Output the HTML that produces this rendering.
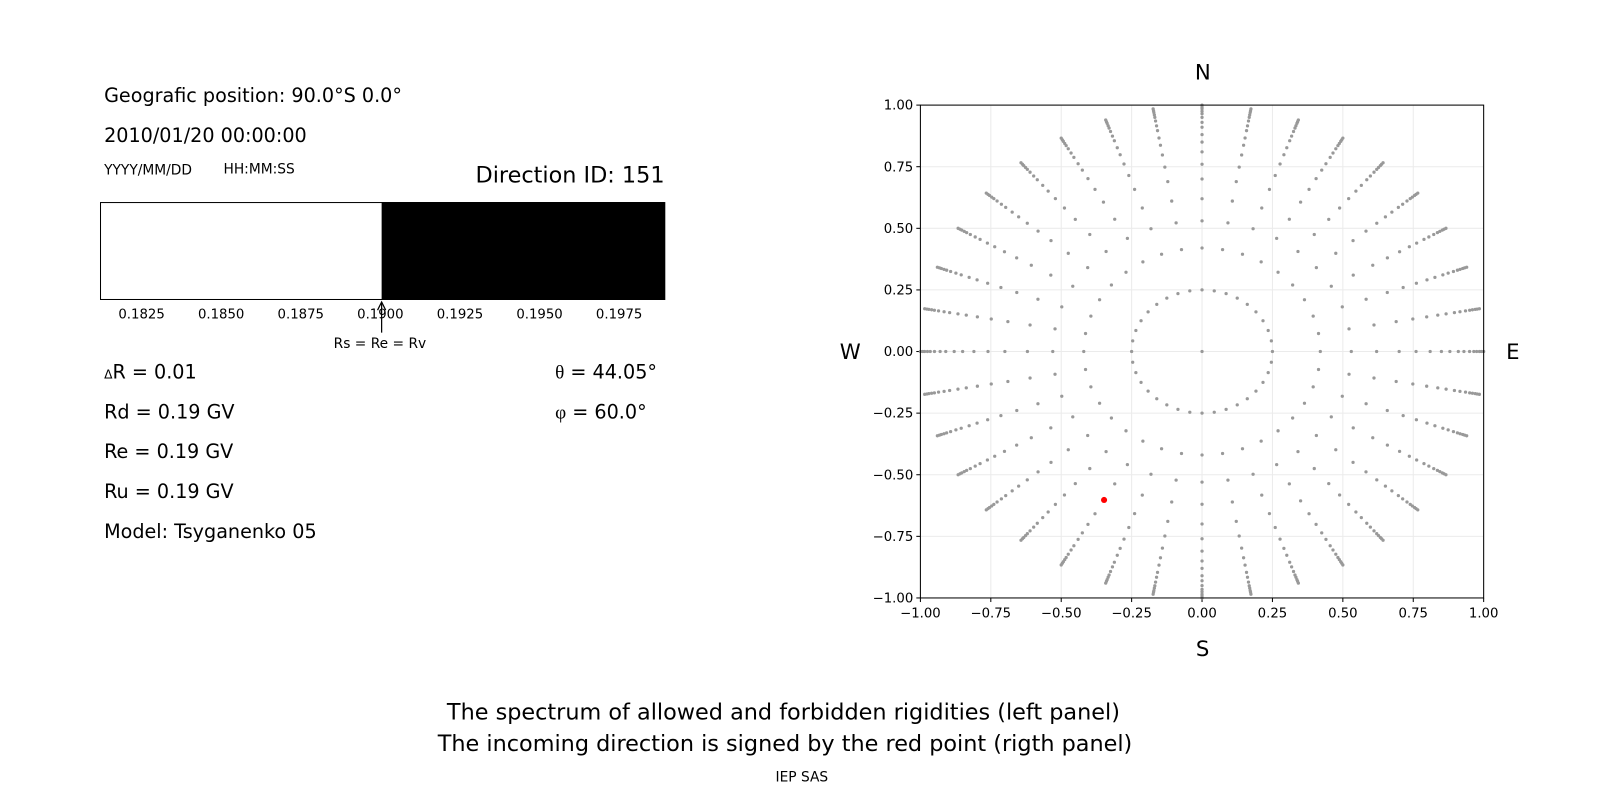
<!DOCTYPE html>
<html><head><meta charset="utf-8"><style>
body{margin:0;background:#fff;width:1600px;height:800px;overflow:hidden;font-family:"DejaVu Sans","Liberation Sans",sans-serif;color:#000}
#w{position:absolute;left:0;top:0;width:1568px;height:784px;transform:scale(1.0204);transform-origin:0 0}
.t{position:absolute;white-space:nowrap;line-height:1}
</style></head><body><div id="w">
<div class="t" style="left:102px;top:86px;font-size:18.8px">Geografic position: 90.0°S 0.0°</div>
<div class="t" style="left:102px;top:125px;font-size:18.8px">2010/01/20 00:00:00</div>
<div class="t" style="left:102px;top:161px;font-size:13.5px">YYYY/MM/DD</div>
<div class="t" style="left:219px;top:160px;font-size:13.5px">HH:MM:SS</div>
<div class="t" style="left:466px;top:162px;font-size:21.9px">Direction ID: 151</div>
<div style="position:absolute;left:98px;top:198px;width:553px;height:96px;border:1.3px solid #000;box-sizing:border-box;background:#fff"></div>
<div style="position:absolute;left:374px;top:198px;width:278px;height:96px;background:#000"></div>
<div class="t" style="left:116px;top:302px;font-size:13px">0.1825</div>
<div class="t" style="left:194px;top:302px;font-size:13px">0.1850</div>
<div class="t" style="left:272px;top:302px;font-size:13px">0.1875</div>
<div class="t" style="left:350px;top:302px;font-size:13px">0.1900</div>
<div class="t" style="left:428px;top:302px;font-size:13px">0.1925</div>
<div class="t" style="left:506px;top:302px;font-size:13px">0.1950</div>
<div class="t" style="left:584px;top:302px;font-size:13px">0.1975</div>
<svg style="position:absolute;left:0;top:0" width="1568" height="784">
<line x1="374" y1="296" x2="374" y2="326" stroke="#000" stroke-width="1.2"/>
<polyline points="370,304 374,296 378,304" fill="none" stroke="#000" stroke-width="1.2"/>
</svg>
<div class="t" style="left:327px;top:331px;font-size:13.5px">Rs = Re = Rv</div>
<div class="t" style="left:102px;top:357px;font-size:18.8px"><span style="font-size:12px">Δ</span>R = 0.01</div>
<div class="t" style="left:102px;top:396px;font-size:18.8px">Rd = 0.19 GV</div>
<div class="t" style="left:102px;top:435px;font-size:18.8px">Re = 0.19 GV</div>
<div class="t" style="left:102px;top:474px;font-size:18.8px">Ru = 0.19 GV</div>
<div class="t" style="left:102px;top:513px;font-size:18.8px">Model: Tsyganenko 05</div>
<div class="t" style="left:544px;top:357px;font-size:18.8px"><span style="font-family:'Liberation Serif',serif">θ</span> = 44.05°</div>
<div class="t" style="left:544px;top:396px;font-size:18.8px"><span style="font-family:'Liberation Serif',serif">φ</span> = 60.0°</div>

<div class="t" style="left:1171px;top:61px;font-size:20.8px">N</div>
<div class="t" style="left:1172px;top:626px;font-size:20.8px">S</div>
<div class="t" style="left:823px;top:335px;font-size:20.8px">W</div>
<div class="t" style="left:1476px;top:335px;font-size:20.8px">E</div>
<svg id="pol" style="position:absolute;left:0;top:0" width="1568" height="784"></svg>
<div class="t" style="left:438px;top:688px;font-size:21.9px">The spectrum of allowed and forbidden rigidities (left panel)</div>
<div class="t" style="left:429px;top:719px;font-size:21.9px">The incoming direction is signed by the red point (rigth panel)</div>
<div class="t" style="left:760px;top:756px;font-size:13.5px">IEP SAS</div>
</div>
<script>
var s=document.getElementById('pol'),h='';
var X0=902,X1=1454,Y0=103,Y1=586;
function px(x){return X0+(x+1)/2*(X1-X0)}function py(y){return Y1-(y+1)/2*(Y1-Y0)}
var ticks=[-1,-0.75,-0.5,-0.25,0,0.25,0.5,0.75,1];
ticks.forEach(function(t){
h+='<line x1="'+px(t)+'" y1="'+Y0+'" x2="'+px(t)+'" y2="'+Y1+'" stroke="#ebebeb" stroke-width="1"/>';
h+='<line x1="'+X0+'" y1="'+py(t)+'" x2="'+X1+'" y2="'+py(t)+'" stroke="#ebebeb" stroke-width="1"/>';
h+='<line x1="'+px(t)+'" y1="'+Y1+'" x2="'+px(t)+'" y2="'+(Y1+4)+'" stroke="#000"/>';
h+='<line x1="'+(X0-4)+'" y1="'+py(t)+'" x2="'+X0+'" y2="'+py(t)+'" stroke="#000"/>';
var l=t.toFixed(2).replace('-','\u2212');
h+='<text x="'+px(t)+'" y="'+(Y1+19)+'" font-size="13" text-anchor="middle" font-family="DejaVu Sans,sans-serif">'+l+'</text>';
h+='<text x="'+(X0-7)+'" y="'+(py(t)+4.5)+'" font-size="13" text-anchor="end" font-family="DejaVu Sans,sans-serif">'+l+'</text>';
});
var R=[0.42,0.53,0.62,0.70,0.76,0.81,0.85,0.88,0.91,0.93,0.95,0.965,0.975,0.985,0.992,1.0];
for(var a=0;a<360;a+=10){var r=a*Math.PI/180;
h+='<circle cx="'+px(0.25*Math.sin(r))+'" cy="'+py(0.25*Math.cos(r))+'" r="1.6" fill="#999"/>';
R.forEach(function(q){h+='<circle cx="'+px(q*Math.sin(r))+'" cy="'+py(q*Math.cos(r))+'" r="1.6" fill="#999"/>';});}
h+='<circle cx="'+px(0)+'" cy="'+py(0)+'" r="1.6" fill="#999"/>';
h+='<circle cx="1082" cy="490" r="3" fill="#f00"/>';
h+='<rect x="'+X0+'" y="'+Y0+'" width="'+(X1-X0)+'" height="'+(Y1-Y0)+'" fill="none" stroke="#000" stroke-width="1"/>';
s.innerHTML=h;
</script>
</body></html>
